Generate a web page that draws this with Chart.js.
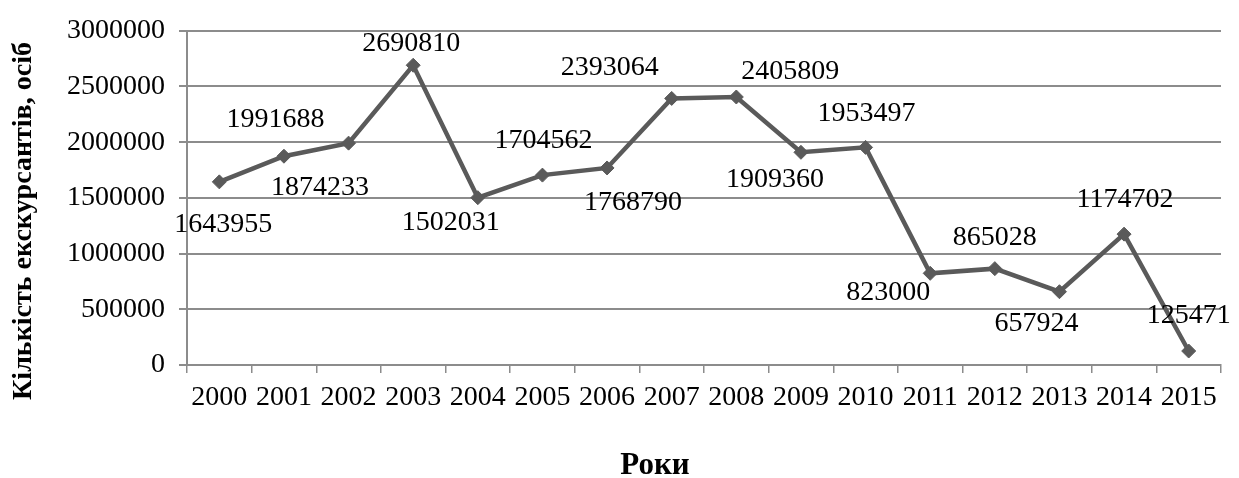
<!DOCTYPE html>
<html>
<head>
<meta charset="utf-8">
<script src="https://cdn.jsdelivr.net/npm/chart.js@4/dist/chart.umd.min.js"></script>
<style>
html,body{margin:0;padding:0;background:#fff;}
#wrap{width:1239px;height:478px;position:relative;}
</style>
</head>
<body>
<div id="wrap"><canvas id="c" width="1239" height="478"></canvas></div>
<script>
const years = ['2000','2001','2002','2003','2004','2005','2006','2007','2008','2009','2010','2011','2012','2013','2014','2015'];
const visitors = [1643955,1874233,1991688,2690810,1502031,1704562,1768790,2393064,2405809,1909360,1953497,823000,865028,657924,1174702,125471];
const yTitle = 'Кількість екскурсантів, осіб';
const xTitle = 'Роки';

// label placement offsets (px) relative to each point – styling only
const labelOffsets = [[4,43],[36,31],[-73,-23],[-2,-22],[-27,25],[1,-34],[26,35],[-62,-31],[54,-25],[-26,27],[1,-34],[-42,19],[0,-31],[-23,32],[1,-34],[0,-35]];

const FONT = "'Liberation Serif','Times New Roman',serif";
const GRID = '#8c8c8c';
const LINE = '#5a5a5a';

const labelsPlugin = {
  id: 'valLabels',
  afterDatasetsDraw(chart) {
    const ctx = chart.ctx;
    const meta = chart.getDatasetMeta(0);
    ctx.save();
    ctx.font = '28px ' + FONT;
    ctx.fillStyle = '#000';
    ctx.textAlign = 'center';
    ctx.textBaseline = 'middle';
    meta.data.forEach((pt, i) => {
      const o = labelOffsets[i];
      ctx.fillText(String(visitors[i]), pt.x + o[0], pt.y + o[1]);
    });
    ctx.restore();
  }
};

const titlesPlugin = {
  id: 'axisTitles',
  afterDraw(chart) {
    const ctx = chart.ctx;
    ctx.save();
    ctx.fillStyle = '#000';
    ctx.textAlign = 'center';
    ctx.textBaseline = 'middle';
    ctx.font = 'bold 31px ' + FONT;
    ctx.fillText(xTitle, 655, 466);
    ctx.translate(24, 221);
    ctx.rotate(-Math.PI / 2);
    ctx.font = 'bold 28px ' + FONT;
    ctx.fillText(yTitle, 0, 0);
    ctx.restore();
  }
};

new Chart(document.getElementById('c'), {
  type: 'line',
  data: {
    labels: years,
    datasets: [{
      data: visitors,
      borderColor: LINE,
      backgroundColor: LINE,
      borderWidth: 4.5,
      pointStyle: 'rectRot',
      pointRadius: 7,
      pointBorderWidth: 1,
      pointBackgroundColor: LINE,
      pointBorderColor: LINE,
      tension: 0,
      fill: false
    }]
  },
  options: {
    responsive: false,
    animation: false,
    devicePixelRatio: 1,
    layout: { padding: { left: 0, right: 18, top: 28, bottom: 0 } },
    plugins: { legend: { display: false }, tooltip: { enabled: false } },
    scales: {
      x: {
        type: 'category',
        offset: true,
        grid: { display: true, drawOnChartArea: false, drawTicks: true, tickLength: 8, color: GRID, lineWidth: 1.5, offset: true },
        border: { display: true, color: GRID, width: 2 },
        ticks: { color: '#000', font: { family: FONT, size: 28 }, padding: 8, maxRotation: 0, autoSkip: false },
        afterFit(s) { s.height = 113; }
      },
      y: {
        min: 0, max: 3000000,
        grid: { color: GRID, lineWidth: 2, tickLength: 8, drawTicks: true },
        border: { display: true, color: GRID, width: 2 },
        ticks: { stepSize: 500000, color: '#000', font: { family: FONT, size: 28 }, padding: 14,
                 callback: (v) => String(v) },
        afterFit(s) { s.width = 187; }
      }
    }
  },
  plugins: [labelsPlugin, titlesPlugin]
});
</script>
</body>
</html>
